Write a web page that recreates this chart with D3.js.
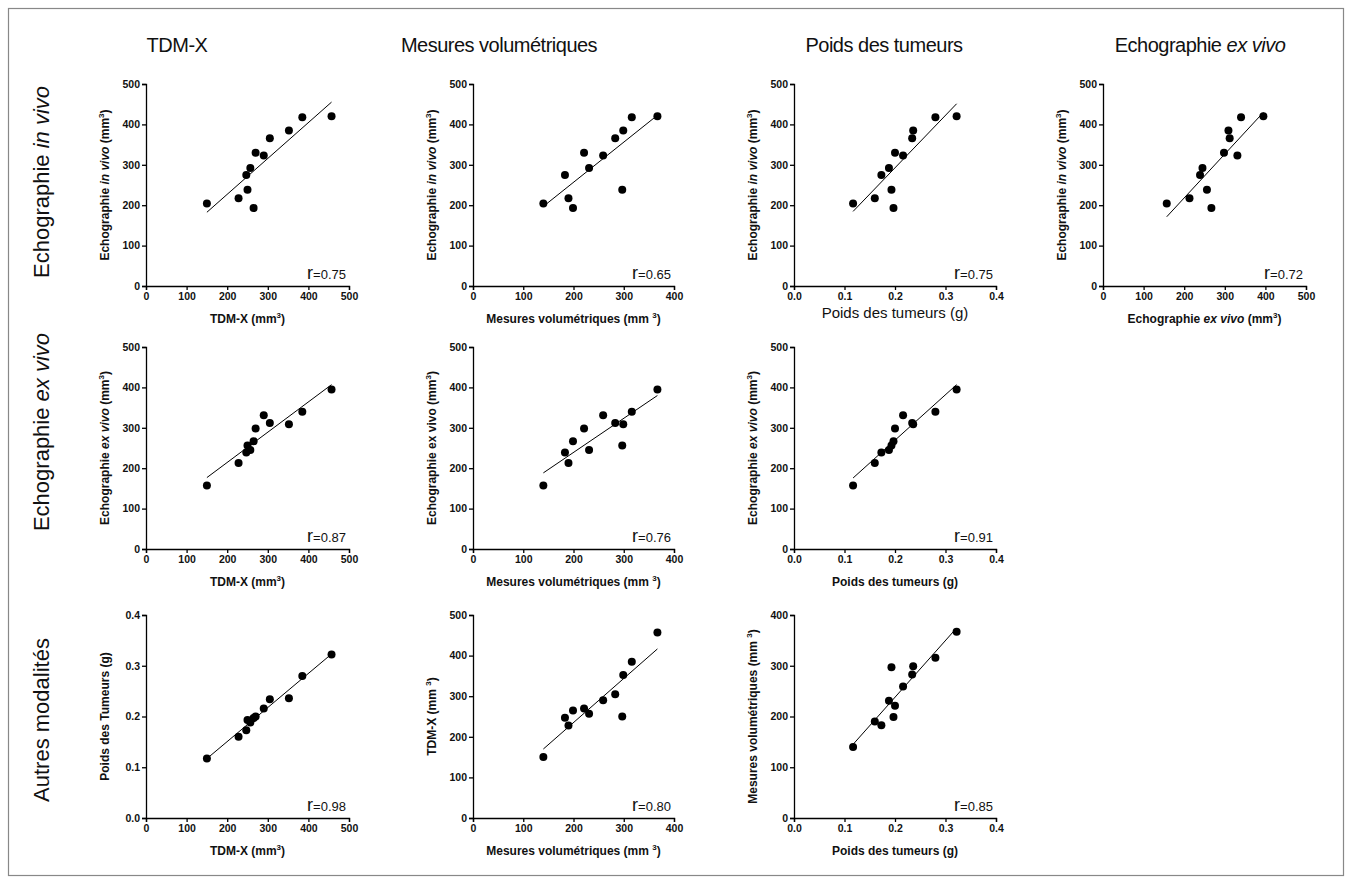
<!DOCTYPE html>
<html><head><meta charset="utf-8">
<script src="https://cdn.jsdelivr.net/npm/d3@7"></script>
<style>body{margin:0;background:#fff}svg{display:block}</style>
</head><body>
<script>
// Per-tumour measurements (12 tumours)
const tdmx       = [150,228,247,250,257,265,270,290,305,352,385,457];
const mesures    = [140,190,183,297,231,199,221,259,283,299,316,367];
const poids      = [0.117,0.160,0.173,0.193,0.188,0.197,0.200,0.216,0.234,0.236,0.280,0.322];
const echoExVivo = [157,213,239,256,245,267,298,331,312,309,340,395];
const echoInVivo = [204,217,275,238,292,193,330,323,366,385,418,420];

const colHeaders = [[{t:"TDM-X"}],[{t:"Mesures volumétriques"}],[{t:"Poids des tumeurs"}],[{t:"Echographie "},{t:"ex vivo",i:true}]];
const rowHeaders = [[{t:"Echographie "},{t:"in vivo",i:true}],[{t:"Echographie "},{t:"ex vivo",i:true}],[{t:"Autres modalités"}]];
const rLabels = ["0.75","0.65","0.75","0.72","0.87","0.76","0.91","0.98","0.80","0.85"];
const volTicks = [0,100,200,300,400,500];
const vol4Ticks = [0,100,200,300,400];
const gTicks = [0.0,0.1,0.2,0.3,0.4];

const series = {tdmx, mesures, poids, echoExVivo, echoInVivo};

const tTDM = [{t:"TDM-X (mm"},{t:"3",s:true},{t:")"}];
const tTDM2 = [{t:"TDM-X (mm "},{t:"3",s:true},{t:")"}];
const tMes = [{t:"Mesures volumétriques (mm "},{t:"3",s:true},{t:")"}];
const tPoids = [{t:"Poids des tumeurs (g)"}];
const tPoidsT = [{t:"Poids des Tumeurs (g)"}];
const tIn = [{t:"Echographie  "},{t:"in vivo",i:true},{t:" (mm"},{t:"3",s:true},{t:")"}];
const tEx = [{t:"Echographie  "},{t:"ex vivo",i:true},{t:" (mm"},{t:"3",s:true},{t:")"}];
const tExN = [{t:"Echographie   ex vivo (mm"},{t:"3",s:true},{t:")"}];

const panels = [
 {row:0,col:0,x:"tdmx",y:"echoInVivo",xt:volTicks,yt:volTicks,xT:tTDM,yT:tIn},
 {row:0,col:1,x:"mesures",y:"echoInVivo",xt:vol4Ticks,yt:volTicks,xT:tMes,yT:tIn},
 {row:0,col:2,x:"poids",y:"echoInVivo",xt:gTicks,yt:volTicks,xT:tPoids,yT:tIn,big:true},
 {row:0,col:3,x:"echoExVivo",y:"echoInVivo",xt:volTicks,yt:volTicks,xT:tEx,yT:tIn},
 {row:1,col:0,x:"tdmx",y:"echoExVivo",xt:volTicks,yt:volTicks,xT:tTDM,yT:tEx},
 {row:1,col:1,x:"mesures",y:"echoExVivo",xt:vol4Ticks,yt:volTicks,xT:tMes,yT:tExN},
 {row:1,col:2,x:"poids",y:"echoExVivo",xt:gTicks,yt:volTicks,xT:tPoids,yT:tEx},
 {row:2,col:0,x:"tdmx",y:"poids",xt:volTicks,yt:gTicks,xT:tTDM,yT:tPoidsT},
 {row:2,col:1,x:"mesures",y:"tdmx",xt:vol4Ticks,yt:volTicks,xT:tMes,yT:tTDM2},
 {row:2,col:2,x:"poids",y:"mesures",xt:gTicks,yt:vol4Ticks,xT:tPoids,yT:tMes},
];

const W=1351,H=883;
const colX=[146,473,794,1103], colW=[203,201,202,203];
const rowTop=[84,347,615], rowBot=[286,549,818];

const svg=d3.select("body").append("svg").attr("width",W).attr("height",H)
  .style("font-family","'Liberation Sans',Arial,sans-serif");
svg.append("rect").attr("x",8.5).attr("y",8.5).attr("width",1335).attr("height",867)
  .attr("fill","none").attr("stroke","#888").attr("stroke-width",1.2);

function rich(sel, parts, supSize){
  let pend=0;
  parts.forEach(p=>{
    const ts=sel.append("tspan").text(p.t);
    if(p.s){ ts.attr("dy",-5).attr("font-size",supSize); pend=5; }
    else {
      if(pend){ ts.attr("dy",pend); pend=0; }
      if(p.i) ts.attr("font-style","italic");
    }
  });
}

// column headers
const colCenters=[177,499,884,1200];
colHeaders.forEach((h,i)=>{
  const t=svg.append("text").attr("x",colCenters[i]).attr("y",52).attr("text-anchor","middle")
    .attr("font-size",20).attr("fill","#111").style("letter-spacing","-0.5px");
  rich(t,h,12);
});
const rowCenters=[182,432,720];
rowHeaders.forEach((h,i)=>{
  const t=svg.append("text").attr("transform",`translate(49,${rowCenters[i]}) rotate(-90)`)
    .attr("text-anchor","middle").attr("font-size",22).attr("fill","#111");
  rich(t,h,12);
});

panels.forEach((p,k)=>{
  const x0=colX[p.col], x1=x0+colW[p.col], yT=rowTop[p.row], yB=rowBot[p.row];
  const xs=d3.scaleLinear().domain([p.xt[0],p.xt[p.xt.length-1]]).range([x0,x1]);
  const ys=d3.scaleLinear().domain([p.yt[0],p.yt[p.yt.length-1]]).range([yB,yT]);
  const isG = a=>a===gTicks;
  const xf = isG(p.xt)? d3.format(".1f") : d3.format("d");
  const yf = isG(p.yt)? d3.format(".1f") : d3.format("d");
  const g=svg.append("g");
  const xa=g.append("g").attr("transform",`translate(0,${yB})`)
    .call(d3.axisBottom(xs).tickValues(p.xt).tickFormat(xf).tickSizeOuter(0).tickSize(4).tickPadding(3));
  const ya=g.append("g").attr("transform",`translate(${x0},0)`)
    .call(d3.axisLeft(ys).tickValues(p.yt).tickFormat(yf).tickSizeOuter(0).tickSize(4).tickPadding(2));
  [xa,ya].forEach(a=>{
    a.selectAll("path,line").attr("stroke","#000").attr("stroke-width",1.3);
    a.selectAll("text").attr("font-size",10.5).attr("font-weight","bold").attr("fill","#111")
     .attr("font-family","'Liberation Sans',Arial,sans-serif");
  });
  const xd=series[p.x], yd=series[p.y];
  // least-squares fit over data range
  const mx=d3.mean(xd), my=d3.mean(yd);
  const b=d3.sum(xd.map((v,i)=>(v-mx)*(yd[i]-my)))/d3.sum(xd.map(v=>(v-mx)*(v-mx)));
  const a=my-b*mx;
  const [lo,hi]=d3.extent(xd);
  g.append("line").attr("x1",xs(lo)).attr("y1",ys(a+b*lo)).attr("x2",xs(hi)).attr("y2",ys(a+b*hi))
    .attr("stroke","#000").attr("stroke-width",1);
  g.selectAll("circle").data(xd).enter().append("circle")
    .attr("cx",d=>xs(d)).attr("cy",(d,i)=>ys(yd[i])).attr("r",4).attr("fill","#000");
  // r label
  const rt=g.append("text").attr("x",x1-3).attr("y",yB-7).attr("text-anchor","end").attr("fill","#111");
  rt.append("tspan").attr("font-size",18).text("r");
  rt.append("tspan").attr("font-size",13).text("="+rLabels[k]);
  // x title
  const xt=g.append("text").attr("x",(x0+x1)/2).attr("y",yB+(p.big?32:37)).attr("text-anchor","middle")
    .attr("fill","#111").attr("font-size",p.big?15:12).attr("font-weight",p.big?"normal":"bold");
  rich(xt,p.xT,8);
  const yt=g.append("text").attr("transform",`translate(${x0-37},${(yT+yB)/2}) rotate(-90)`)
    .attr("text-anchor","middle").attr("fill","#111").attr("font-size",12).attr("font-weight","bold");
  rich(yt,p.yT,8);
});
</script>
</body></html>
